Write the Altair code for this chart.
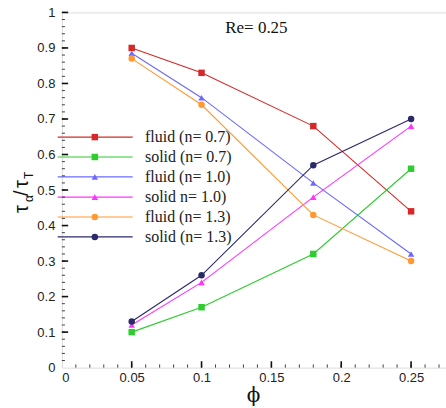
import altair as alt
import pandas as pd

phi = [0.05, 0.1, 0.18, 0.25]
series = ["fluid (n= 0.7)", "solid (n= 0.7)", "fluid (n= 1.0)",
          "solid n= 1.0)", "fluid (n= 1.3)", "solid (n= 1.3)"]
fluid_07 = [0.90, 0.83, 0.68, 0.44]
solid_07 = [0.10, 0.17, 0.32, 0.56]
fluid_10 = [0.885, 0.76, 0.52, 0.32]
solid_10 = [0.12, 0.24, 0.48, 0.68]
fluid_13 = [0.87, 0.74, 0.43, 0.30]
solid_13 = [0.13, 0.26, 0.57, 0.70]
values = [fluid_07, solid_07, fluid_10, solid_10, fluid_13, solid_13]

line_colors = ["#d62828", "#2ecc2e", "#6a6aff", "#ff33ff", "#ff9933", "#2a2a6a"]
mark_colors = ["#cc1111", "#22cc22", "#1a1aff", "#ff00ff", "#ff8811", "#000044"]
shapes = ["square", "square", "triangle-up", "triangle-up", "circle", "circle"]
sizes = [42, 42, 70, 70, 70, 70]

x_ticks = [0, 0.05, 0.1, 0.15, 0.2, 0.25]
y_ticks = [0, 0.1, 0.2, 0.3, 0.4, 0.5, 0.6, 0.7, 0.8, 0.9, 1.0]
x_minor = [round(i * 0.01, 2) for i in range(0, 28)]
y_minor = [round(i * 0.02, 2) for i in range(0, 51)]

legend_y = [0.649, 0.593, 0.537, 0.480, 0.424, 0.368]
legend_x0, legend_x1, legend_xm, legend_xt = -0.003, 0.0507, 0.0236, 0.0595

rows = []
for s, v in zip(series, values):
    for x, y in zip(phi, v):
        rows.append({"series": s, "phi": x, "tau": y})
df = pd.DataFrame(rows)

leg = pd.DataFrame({"series": series, "ly": legend_y,
                    "x0": legend_x0, "x1": legend_x1, "xm": legend_xm, "xt": legend_xt})

xs = alt.Scale(domain=[0, 0.275], nice=False)
ys = alt.Scale(domain=[0, 1], nice=False)
lc = alt.Scale(domain=series, range=line_colors)
mc = alt.Scale(domain=series, range=mark_colors)
sh = alt.Scale(domain=series, range=shapes)
sz = alt.Scale(domain=series, range=sizes)

lab = dict(labelFont="Liberation Sans", labelFontSize=13, labelColor="#222",
           domain=False, ticks=False, grid=False, format="~g", labelOverlap=False)
XA = alt.Axis(values=x_ticks, title=None, labelPadding=4, **lab)
YA = alt.Axis(values=y_ticks, title=None, labelPadding=7, **lab)


def X(f):
    return alt.X(f, scale=xs, axis=XA, title=None)


def Y(f):
    return alt.Y(f, scale=ys, axis=YA, title=None)


base = alt.Chart(df)
lines = base.mark_line(strokeWidth=1.1).encode(
    x=X("phi:Q"), y=Y("tau:Q"),
    color=alt.Color("series:N", scale=lc, legend=None),
    detail="series:N",
)
pts = base.mark_point(filled=True, opacity=1).encode(
    x=X("phi:Q"), y=Y("tau:Q"),
    color=alt.Color("series:N", scale=mc, legend=None),
    shape=alt.Shape("series:N", scale=sh, legend=None),
    size=alt.Size("series:N", scale=sz, legend=None),
)

lb = alt.Chart(leg)
leg_lines = lb.mark_rule(strokeWidth=1.1).encode(
    x=X("x0:Q"), x2="x1:Q", y=Y("ly:Q"),
    color=alt.Color("series:N", scale=lc, legend=None))
leg_pts = lb.mark_point(filled=True, opacity=1).encode(
    x=X("xm:Q"), y=Y("ly:Q"),
    color=alt.Color("series:N", scale=mc, legend=None),
    shape=alt.Shape("series:N", scale=sh, legend=None),
    size=alt.Size("series:N", scale=sz, legend=None))
leg_txt = lb.mark_text(align="left", baseline="middle", font="Liberation Serif",
                       fontSize=16, color="#222").encode(
    x=X("xt:Q"), y=Y("ly:Q"), text="series:N")

# inward ticks
xmaj = pd.DataFrame({"v": x_ticks[1:], "a": 0.0, "b": 0.018})
xmin = pd.DataFrame({"v": x_minor[1:], "a": 0.0, "b": 0.009})
ymaj = pd.DataFrame({"v": y_ticks[1:], "a": 0.0, "b": 0.0045})
ymin = pd.DataFrame({"v": y_minor[1:], "a": 0.0, "b": 0.0022})
tk = []
for d, w in [(xmaj, 1.6), (xmin, 0.8)]:
    tk.append(alt.Chart(d).mark_rule(color="#111", strokeWidth=w).encode(
        x=X("v:Q"), y=Y("a:Q"), y2="b:Q"))
for d, w in [(ymaj, 1.6), (ymin, 0.8)]:
    tk.append(alt.Chart(d).mark_rule(color="#111", strokeWidth=w).encode(
        y=Y("v:Q"), x=X("a:Q"), x2="b:Q"))

title = alt.Chart(pd.DataFrame({"t": ["Re= 0.25"]})).mark_text(
    font="Liberation Serif", fontSize=17, color="#111", align="center", baseline="middle"
).encode(x=alt.value(195), y=alt.value(16), text="t:N")

xtitle = alt.Chart(pd.DataFrame({"t": ["ϕ"]})).mark_text(
    font="DejaVu Serif", fontSize=20, color="#111", align="center", baseline="middle"
).encode(x=alt.value(192), y=alt.value(384), text="t:N")

# y title pieces: tau_alpha / tau_T, rotated
yt_parts = [("τ", 20, -34, 201), ("α", 12, -29, 190), ("/", 20, -34, 184),
            ("τ", 20, -34, 176), ("T", 12, -29, 167)]
yts = []
for t, fs, x, y in yt_parts:
    yts.append(alt.Chart(pd.DataFrame({"t": [t]})).mark_text(
        font="Liberation Sans", fontSize=fs, color="#111", angle=270,
        align="left", baseline="alphabetic").encode(x=alt.value(x), y=alt.value(y), text="t:N"))

chart = alt.layer(lines, pts, leg_lines, leg_pts, leg_txt, *tk, title, xtitle, *yts).properties(
    width=385, height=356,
    autosize=alt.AutoSizeParams(type="none"),
    padding={"left": 62, "top": 12, "right": 0, "bottom": 40},
).configure_view(stroke="#000", strokeWidth=2).configure(background="white")

chart.save("out.html", embed_options={"renderer": "svg", "actions": False})
